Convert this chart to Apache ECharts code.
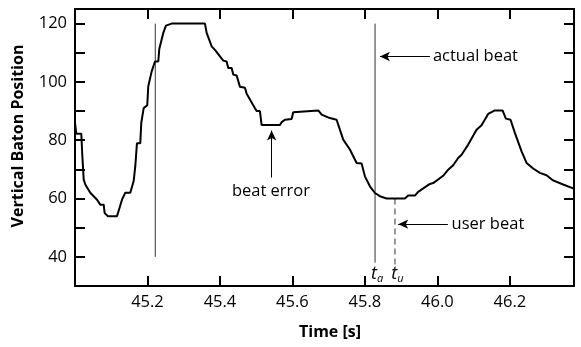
<!DOCTYPE html>
<html><head><meta charset="utf-8">
<script src="https://cdn.jsdelivr.net/npm/echarts@6/dist/echarts.min.js"></script>
<style>html,body{margin:0;padding:0;background:#fff}#c{width:581px;height:347px}</style>
</head><body><div id="c"></div>
<script>
// Traced baton trajectory: time [s], vertical position
const times = [45.000,45.0036,45.0174,45.0201,45.0240,45.0284,45.0422,45.0607,45.0698,45.0792,45.0819,45.0910,45.1159,45.1297,45.1388,45.1526,45.1619,45.1663,45.1710,45.1801,45.1829,45.1895,45.1994,45.2022,45.2116,45.2207,45.2298,45.2326,45.2436,45.2510,45.2668,45.3586,45.3633,45.3771,45.3862,45.4091,45.4185,45.4229,45.4323,45.4367,45.4461,45.4552,45.4690,45.4737,45.4781,45.4828,45.4966,45.5013,45.5103,45.5150,45.5655,45.5702,45.5793,45.5978,45.6022,45.6069,45.6712,45.6806,45.7034,45.7219,45.7401,45.7586,45.7771,45.7909,45.8000,45.8138,45.8276,45.8414,45.8599,45.9103,45.9195,45.9379,45.9470,45.9793,45.9884,46.0160,46.0298,46.0436,46.0574,46.0668,46.0850,46.1081,46.1219,46.1401,46.1586,46.1799,46.1890,46.2019,46.2138,46.2323,46.2461,46.2643,46.2828,46.3012,46.3194,46.3470,46.3766];
const positions = [86,82.2,82.2,75,66.5,64.8,62,59.6,57.9,57.9,55,53.9,53.9,59.6,62,62,66,71,79,79,86,91,92,98.5,103.6,107,107,111.3,116.8,119.3,120,120,116.8,112.2,111,107.3,107,104.8,104.8,102.5,102.2,98.3,98,95.9,95.9,94,91,90,90,85.2,85.2,86.2,87,87.3,89.6,90.2,90.2,88.8,87.6,87,80.2,76.8,72.2,72,67.6,64.2,61.9,60.8,60,60,61,61,62.3,65,65.3,67.8,69.9,71.4,73.9,75,78.5,83.6,85.1,89,90.2,90.2,87.4,87,82.5,76.2,72.2,70.3,68.8,68,66.2,64.8,63.4];
// Beat markers
const beatLine1 = [[45.2215,40],[45.2215,120]];
const actualBeat = [[45.828,38],[45.828,120]];
const userBeat = [[45.883,60],[45.883,35]];
// Annotation arrows [from, to]
const arrows = [
  [[45.9793,108.7],[45.8414,108.7]],
  [[45.5426,67.2],[45.5426,83.3]],
  [[46.029,51.2],[45.892,51.2]]
];
const notes = [
  {value:[45.9876,108.7], name:'actual beat', pos:'right'},
  {value:[45.5407,62.4], name:'beat error', pos:'inside'},
  {value:[46.0392,51.3], name:'user beat', pos:'right'},
  {value:[45.8335,33.9], name:'{t|t}{s|a}', pos:'inside'},
  {value:[45.8895,33.9], name:'{t|t}{s|u}', pos:'inside'}
];
const xTickLabels = ['45.2','45.4','45.6','45.8','46.0','46.2'];
const yTickLabels = ['40','60','80','100','120'];

const FONT = 'Open Sans';
const chart = echarts.init(document.getElementById('c'));
const axisLine = {show:true, lineStyle:{color:'#000', width:2}};
const tick = {show:true, inside:true, length:10, lineStyle:{color:'#000', width:2}};
const xLab = v => { const s = v.toFixed(1); return xTickLabels.includes(s) ? s : ''; };
const yLab = v => { const s = String(Math.round(v)); return (Math.abs(v-Math.round(v))<1e-6 && yTickLabels.includes(s)) ? s : ''; };
const xBase = {type:'value', min:45.0, max:46.377, interval:0.2, splitLine:{show:false}, axisLine, axisTick:tick};
const yBase = {type:'value', min:30, max:125, interval:10, splitLine:{show:false}, axisLine, axisTick:tick};
chart.setOption({
  animation:false,
  grid:{left:75, right:7, top:9, bottom:61},
  xAxis:[
    Object.assign({}, xBase, {position:'bottom', axisLabel:{formatter:xLab, color:'#000', fontFamily:FONT, fontSize:16.5, margin:8}}),
    Object.assign({}, xBase, {position:'top', axisLabel:{show:false}})
  ],
  yAxis:[
    Object.assign({}, yBase, {position:'left', axisLabel:{formatter:yLab, color:'#000', fontFamily:FONT, fontSize:16.5, margin:8}}),
    Object.assign({}, yBase, {position:'right', axisLabel:{show:false}})
  ],
  graphic:[
    {type:'text', x:18.5, y:136, rotation:Math.PI/2, style:{text:'Vertical Baton Position', fontFamily:FONT, fontWeight:'bold', fontSize:16, fill:'#000', align:'center', verticalAlign:'middle'}},
    {type:'text', x:330, y:332.7, style:{text:'Time [s]', fontFamily:FONT, fontWeight:'bold', fontSize:16, fill:'#000', align:'center', verticalAlign:'middle'}}
  ],
  series:[
    {type:'line', data:times.map((t,i)=>[t,positions[i]]), showSymbol:false, lineStyle:{color:'#000', width:2}, z:5},
    {type:'line', data:beatLine1, showSymbol:false, lineStyle:{color:'#333', width:1}},
    {type:'line', data:actualBeat, showSymbol:false, lineStyle:{color:'#333', width:1}},
    {type:'line', data:userBeat, showSymbol:false, lineStyle:{color:'#333', width:1, type:[6,4]}},
    {type:'line', data:[], markLine:{silent:true, symbol:['none','arrow'], symbolSize:[7,10], label:{show:false},
      lineStyle:{color:'#000', width:1, type:'solid'},
      data:arrows.map(a=>[{coord:a[0]},{coord:a[1]}])}},
    {type:'scatter', symbolSize:0, itemStyle:{opacity:1}, data:notes.map(n=>({value:n.value, name:n.name, label:{position:n.pos}})),
      label:{show:true, distance:0, formatter:p=>p.name, color:'#000', fontFamily:FONT, fontSize:16.5,
        rich:{t:{fontFamily:FONT, fontStyle:'italic', fontSize:18, color:'#000', verticalAlign:'top', lineHeight:20},
              s:{fontFamily:FONT, fontStyle:'italic', fontSize:11, color:'#000', verticalAlign:'bottom', lineHeight:20, padding:[8,0,0,0]}}}}
  ]
});
</script></body></html>
